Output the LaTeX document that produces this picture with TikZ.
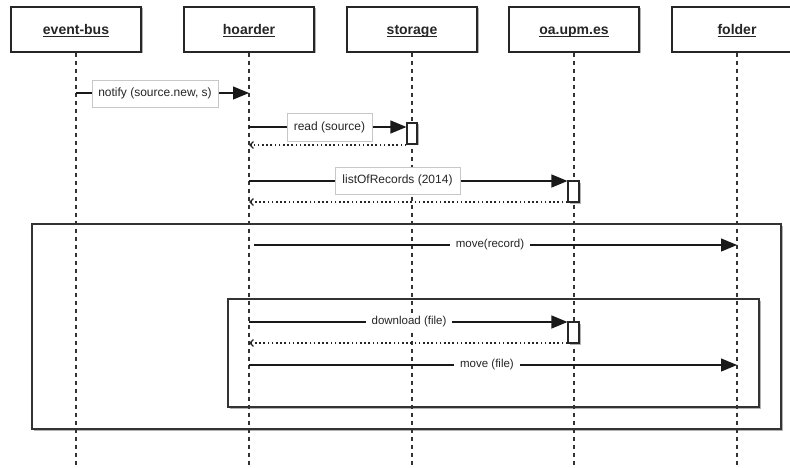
\documentclass[tikz,border=0pt]{standalone}
\usepackage{fontspec}
\setmainfont{Liberation Sans}
\usetikzlibrary{arrows.meta,shadows}
% underline at a fixed depth, whatever the descenders
\newcommand{\hul}[1]{\underline{\smash{#1}}}

\begin{document}
\begin{tikzpicture}[x=1pt,y=-1pt,
  softshadow/.style={drop shadow={shadow xshift=1.5pt,shadow yshift=-1.5pt,fill=black!30,opacity=1}},
  head/.style={draw=black!85, line width=1.2pt, fill=white, softshadow,
    minimum width=130pt, minimum height=45pt, inner sep=0pt,
    text height=10pt, text depth=0pt, text=black!85,
    font=\fontsize{14}{16}\selectfont\bfseries},
  life/.style={line width=1.1pt, draw=black!80, dash pattern=on 4.5pt off 3.5pt},
  frame/.style={draw=black!80, line width=1.1pt, fill=white, softshadow},
  msg/.style={line width=1.2pt, draw=black!90, -{Triangle[length=16pt,width=13pt]}},
  reply/.style={line width=1.3pt, draw=black!85, dash pattern=on 1.6pt off 2.6pt,
    -{Straight Barb[length=3.5pt,width=7pt]}},
  boxlabel/.style={draw=black!22, line width=0.8pt, fill=white, inner sep=0pt,
    text=black!85, font=\fontsize{12}{14}\selectfont},
  plainlabel/.style={fill=white, inner xsep=6pt, inner ysep=2pt,
    text=black!85, font=\fontsize{11.5}{13}\selectfont},
  act/.style={draw=black!85, line width=1.1pt, fill=white, softshadow,
    minimum width=10pt, minimum height=21pt, inner sep=0pt}
]
\useasboundingbox (0,0) rectangle (790,468);

% combined fragments
\draw[frame] (32,224) rectangle (781,429);
\draw[frame] (228,299) rectangle (759,407);

% participants
\node[head] (eb) at (76,29.5)  {\hul{event-bus}};
\node[head] (hd) at (249,29.5) {\hul{hoarder}};
\node[head] (st) at (412,29.5) {\hul{storage}};
\node[head] (oa) at (574,29.5) {\hul{oa.upm.es}};
\node[head] (fd) at (737,29.5) {\hul{folder}};

% lifelines
\coordinate (bot) at (0,468);
\foreach \p in {eb,hd,st,oa,fd}
  \draw[life] (\p.south) -- (\p.south |- bot);

% message rows
\coordinate (r1) at (0,93);
\coordinate (r2) at (0,127);
\coordinate (r2b) at (0,145);
\coordinate (r3) at (0,181);
\coordinate (r3b) at (0,202);
\coordinate (r4) at (254,245);
\coordinate (r5) at (0,322);
\coordinate (r5b) at (0,343);
\coordinate (r6) at (0,365);

% activation bars
\node[act] (a1) at (412,133.5) {};
\node[act, minimum width=11pt] (a2) at (573.5,191.5) {};
\node[act, minimum width=11pt] (a3) at (573.5,332.5) {};

% messages
\draw[msg] (eb |- r1) -- (hd |- r1);
\draw[msg] (hd |- r2) -- (a1.west |- r2);
\draw[reply] (a1.west |- r2b) -- (hd |- r2b);
\draw[msg] (hd |- r3) -- (a2.west |- r3);
\draw[reply] (a2.west |- r3b) -- (hd |- r3b);
\draw[msg] (r4) -- (fd |- r4);
\draw[msg] (hd |- r5) -- (a3.west |- r5);
\draw[reply] (a3.west |- r5b) -- (hd |- r5b);
\draw[msg] (hd |- r6) -- (fd |- r6);

% message labels
\node[boxlabel, minimum width=126pt, minimum height=27pt] (l1) at (155,93.5) {notify (source.new, s)};
\node[boxlabel, minimum width=85pt, minimum height=28pt] (l2) at (329.5,127) {read (source)};
\node[boxlabel, minimum width=125pt, minimum height=27pt] (l3) at (397.5,180.5) {listOfRecords (2014)};
\node[plainlabel] (l4) at (490,245) {move(record)};
\node[plainlabel] (l5) at (409,322) {download (file)};
\node[plainlabel] (l6) at (487,365) {move (file)};

% bars stay on top of the lifelines
\node[act] at (a1) {};
\node[act, minimum width=11pt] at (a2) {};
\node[act, minimum width=11pt] at (a3) {};
\end{tikzpicture}
\end{document}
